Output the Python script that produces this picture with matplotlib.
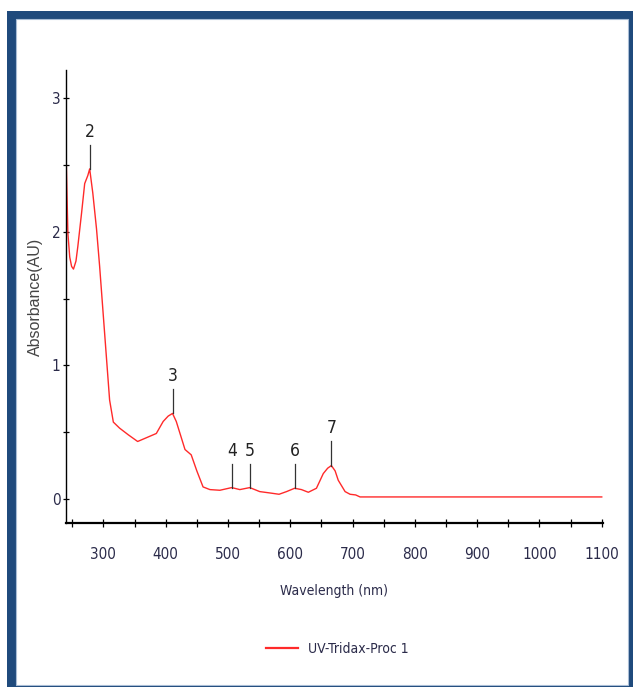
import matplotlib.pyplot as plt
import matplotlib.patches as mpatches
from matplotlib.lines import Line2D

# spectrum
wavelength = [240, 243, 246, 249, 252, 256, 259, 265, 270, 275, 278, 283, 289, 294,
              302, 310, 316, 326, 340, 355, 365, 375, 385, 396, 404, 411, 417,
              423, 431, 441, 450, 460, 471, 487, 506, 519, 535, 551, 567, 582,
              594, 607, 618, 629, 642, 653, 660, 666, 672, 677, 688, 696, 705,
              712, 800, 900, 1000, 1100]
absorbance = [2.61, 1.99, 1.81, 1.74, 1.72, 1.78, 1.89, 2.14, 2.36, 2.42, 2.47, 2.29, 2.02, 1.74,
              1.24, 0.74, 0.575, 0.53, 0.48, 0.43, 0.45, 0.47, 0.49, 0.58, 0.62, 0.64, 0.58,
              0.49, 0.37, 0.33, 0.21, 0.09, 0.07, 0.065, 0.085, 0.07, 0.085, 0.055, 0.045, 0.035,
              0.055, 0.08, 0.07, 0.05, 0.08, 0.19, 0.23, 0.25, 0.21, 0.14, 0.055, 0.035, 0.03,
              0.015, 0.015, 0.015, 0.015, 0.015]

peak_ids = ["2", "3", "4", "5", "6", "7"]
peak_wl = [278, 411, 506, 535, 607, 666]
peak_abs = [2.47, 0.64, 0.085, 0.085, 0.08, 0.25]

x_ticks = list(range(250, 1101, 50))
x_labels = [str(t) if t % 100 == 0 else "" for t in x_ticks]
y_ticks = [0, 0.5, 1, 1.5, 2, 2.5, 3]
y_labels = ["0", "", "1", "", "2", "", "3"]

NARROW = dict(family="DejaVu Sans", stretch="condensed")
TXT = "#2b2b4a"
BLUE = "#1f4a7c"
RED = "#ff2a2a"

fig = plt.figure(figsize=(6.33, 6.87), dpi=100)

# blue frame around the whole thing
fig.patches.append(mpatches.Rectangle((7 / 633, 0.0), 626 / 633, 676 / 687,
                                      transform=fig.transFigure, facecolor=BLUE,
                                      edgecolor="none", zorder=0))
fig.patches.append(mpatches.Rectangle((16 / 633, 2 / 687), 612 / 633, 666 / 687,
                                      transform=fig.transFigure, facecolor="white",
                                      edgecolor="#a9bdd6", linewidth=0.8, zorder=1))

ax = fig.add_axes([66 / 633, 1 - 523 / 687, 537 / 633, 453 / 687])
ax.set_facecolor("none")
ax.set_zorder(2)

ax.plot(wavelength, absorbance, color=RED, linewidth=1.0)

for pid, wl, a in zip(peak_ids, peak_wl, peak_abs):
    ax.plot([wl, wl], [a, a + 0.18], color="#333333", linewidth=0.9)
    ax.text(wl, a + 0.21, pid, ha="center", va="bottom", fontsize=12.5,
            color="#222222", **NARROW)

ax.set_xlim(240, 1102)
ax.set_ylim(-0.18, 3.21)
ax.set_xticks(x_ticks)
ax.set_xticklabels(x_labels, fontsize=11, color=TXT, **NARROW)
ax.set_yticks(y_ticks)
ax.set_yticklabels(y_labels, fontsize=11, color=TXT, **NARROW)
ax.tick_params(axis="x", direction="inout", length=6, width=0.9, pad=14)
ax.tick_params(axis="y", direction="inout", length=4, width=0.9, pad=2)

for side in ("top", "right"):
    ax.spines[side].set_visible(False)
ax.spines["left"].set_linewidth(1.0)
ax.spines["bottom"].set_linewidth(1.6)

ax.set_xlabel("Wavelength (nm)", fontsize=10, color=TXT, labelpad=16, **NARROW)
ax.set_ylabel("Absorbance(AU)", fontsize=11.5, color="#444444", labelpad=6,
              family="Liberation Sans")

handle = Line2D([], [], color=RED, linewidth=1.6)
fig.legend([handle], ["UV-Tridax-Proc 1"], loc="center left",
           bbox_to_anchor=(266 / 633, 1 - 649 / 687), frameon=False,
           borderaxespad=0, borderpad=0,
           prop={"size": 10, **NARROW}, labelcolor=TXT,
           handlelength=2.3, handletextpad=0.7)

fig.savefig("out.png", dpi=100)
